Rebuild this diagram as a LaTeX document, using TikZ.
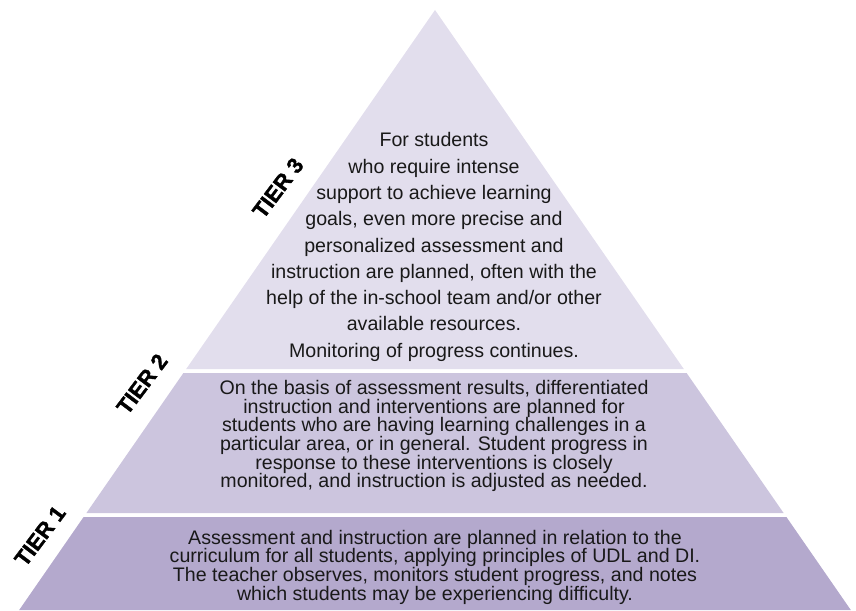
\documentclass[tikz,border=0pt]{standalone}
\usepackage{fontspec}
\setmainfont{Liberation Sans}
\newfontfamily\tierfont{Liberation Sans}[BoldFeatures={FakeBold=1.6}]
\definecolor{tierone}{RGB}{180,169,205}
\definecolor{tiertwo}{RGB}{204,197,222}
\definecolor{tierthree}{RGB}{226,222,237}
\begin{document}
\begin{tikzpicture}[
    x=1pt, y=-1pt,
    tiertext/.style={
        align=center,
        inner sep=0pt,
        text=black!90,
        font=\fontsize{19.6}{18.7}\selectfont
    },
    toptext/.style={
        tiertext,
        font=\fontsize{19.6}{26.3}\selectfont
    },
    tierlabel/.style={
        rotate=53,
        inner sep=0pt,
        font=\fontsize{22}{22}\selectfont\tierfont\bfseries
    }
]
\useasboundingbox (0,0) rectangle (856,610);

% the three layers of the pyramid
\fill[tierthree] (435,10) -- (683.8,369) -- (186.2,369) -- cycle;
\fill[tiertwo] (183.4,373) -- (686.6,373) -- (783.6,513) -- (86.4,513) -- cycle;
\fill[tierone] (83.6,517) -- (786.4,517) -- (850.8,610) -- (19.2,610) -- cycle;

\node[toptext] (t3) at (434,247) {For students\\
    who require intense\\
    support to achieve learning\\
    goals, even more precise and\\
    personalized assessment and\\
    instruction are planned, often with the\\
    help of the in-school team and/or other\\
    available resources.\\
    Monitoring of progress continues.};

\node[tiertext] (t2) at (434,436) {On the basis of assessment results, differentiated\\
    instruction and interventions are planned for\\
    students who are having learning challenges in a\\
    particular area, or in general. Student progress in\\
    response to these interventions is closely\\
    monitored, and instruction is adjusted as needed.};

\node[tiertext] (t1) at (435,567) {Assessment and instruction are planned in relation to the\\
    curriculum for all students, applying principles of UDL and DI.\\
    The teacher observes, monitors student progress, and notes\\
    which students may be experiencing difficulty.};

\node[tierlabel] (l3) at (278,188) {TIER 3};
\node[tierlabel] (l2) at (142,384) {TIER 2};
\node[tierlabel] (l1) at (40,536) {TIER 1};

\end{tikzpicture}
\end{document}
